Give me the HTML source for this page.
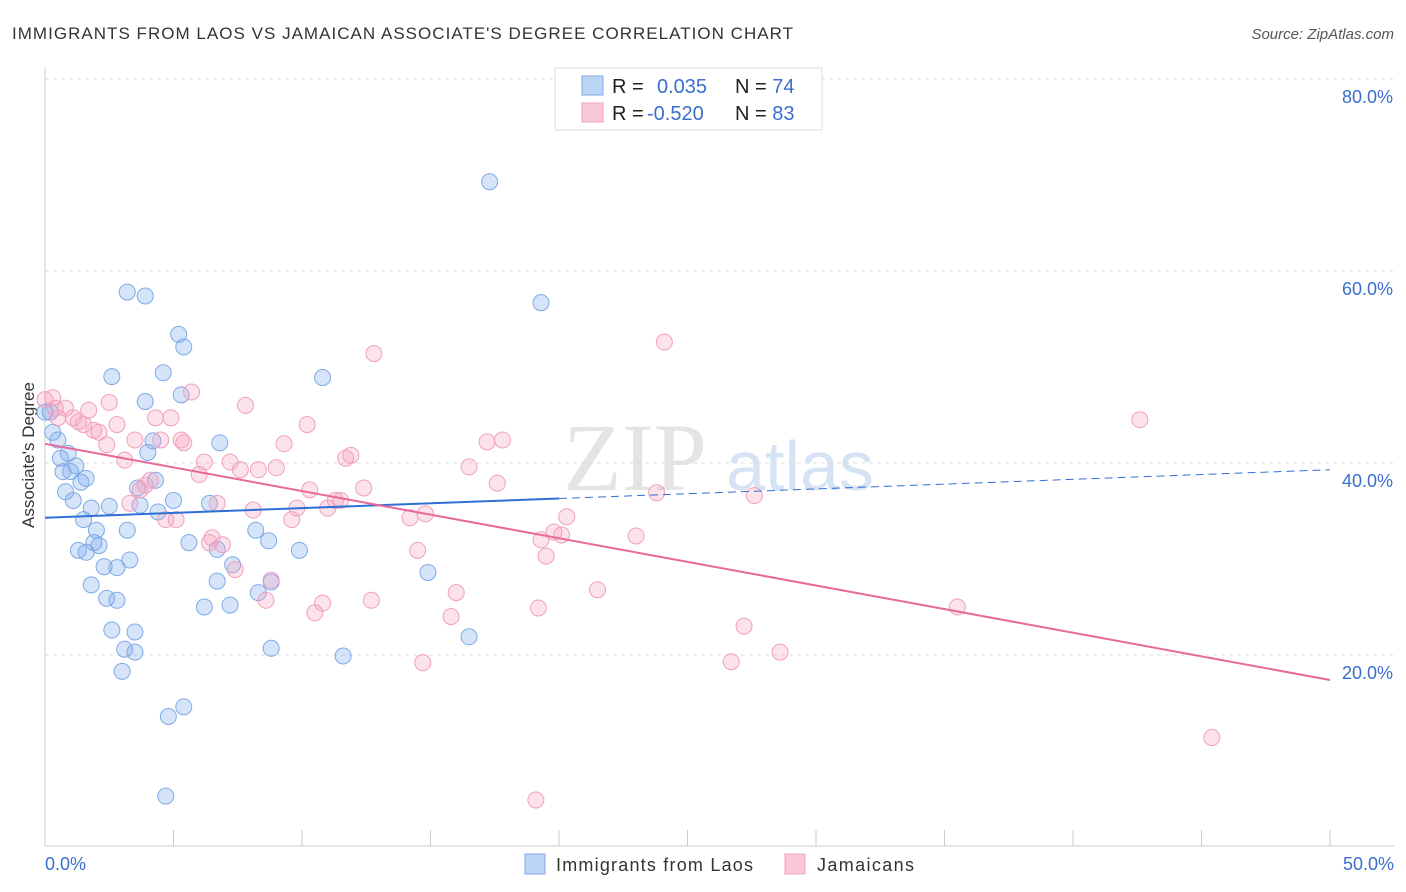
<!DOCTYPE html>
<html><head><meta charset="utf-8"><style>
body{margin:0;background:#fff;font-family:"Liberation Sans",sans-serif;}
#wrap{position:relative;width:1406px;height:892px;overflow:hidden;}
</style></head><body>
<div id="wrap">
<svg id="svg" width="1406" height="892">
<text x="12" y="39" font-size="17" fill="#333" textLength="781">IMMIGRANTS FROM LAOS VS JAMAICAN ASSOCIATE'S DEGREE CORRELATION CHART</text>
<text x="1394" y="39" font-size="15" fill="#555" font-style="italic" text-anchor="end">Source: ZipAtlas.com</text>
<text x="635" y="490" font-size="96" fill="#e4e4e4" font-family="Liberation Serif,serif" text-anchor="middle">ZIP</text>
<text x="800" y="490" font-size="70" fill="#d6e3f5" text-anchor="middle">atlas</text>
<text transform="translate(34,455) rotate(-90)" font-size="17" fill="#333" text-anchor="middle">Associate's Degree</text>
<g id="grid"></g><g id="pts"></g><g id="lines"></g>
<rect x="555" y="68" width="267" height="62" fill="#fff" stroke="#ddd"/>
<rect x="582" y="76" width="21" height="19" fill="#bcd4f5" stroke="#7faae6"/>
<rect x="582" y="103" width="21" height="19" fill="#f9c8d7" stroke="#f0a0bc"/>
<text x="612" y="93" font-size="20" fill="#222">R = <tspan x="657" fill="#3a6fd0">0.035</tspan><tspan x="735" fill="#222">N = </tspan><tspan fill="#3a6fd0">74</tspan></text>
<text x="612" y="120" font-size="20" fill="#222">R = <tspan x="647" fill="#3a6fd0">-0.520</tspan><tspan x="735" fill="#222">N = </tspan><tspan fill="#3a6fd0">83</tspan></text>
<rect x="525" y="854" width="20" height="20" fill="#bcd4f5" stroke="#7faae6"/>
<text x="556" y="871" font-size="18" fill="#333" textLength="197">Immigrants from Laos</text>
<rect x="785" y="854" width="20" height="20" fill="#f9c8d7" stroke="#f0a0bc"/>
<text x="817" y="871" font-size="18" fill="#333" textLength="97">Jamaicans</text>
<text x="45" y="870" font-size="18" fill="#3a6fd0">0.0%</text>
<text x="1394" y="870" font-size="18" fill="#3a6fd0" text-anchor="end">50.0%</text>
</svg>
</div>
<script>
const yTicks=[20,40,60,80];
const yTickLabels=["20.0%","40.0%","60.0%","80.0%"];
const laosX=[0.0,0.2,0.3,0.5,0.6,0.7,0.8,0.9,1.0,1.1,1.2,1.3,1.4,1.5,1.6,1.6,1.8,1.8,1.9,2.0,2.1,2.3,2.4,2.5,2.6,2.6,2.8,2.8,3.0,3.1,3.2,3.2,3.3,3.5,3.5,3.6,3.7,3.9,3.9,4.0,4.2,4.3,4.4,4.6,4.7,4.8,5.0,5.2,5.3,5.4,5.4,5.6,6.2,6.4,6.7,6.7,6.8,7.2,7.3,8.2,8.3,8.7,8.8,8.8,9.9,10.8,11.6,14.9,16.5,17.3,19.3];
const laosY=[45.3,45.3,43.2,42.4,40.5,39.1,37.0,41.0,39.1,36.1,39.7,30.9,38.0,34.1,30.7,38.4,27.3,35.3,31.7,33.0,31.4,29.2,25.9,35.5,49.0,22.6,29.1,25.7,18.3,20.6,57.8,33.0,29.9,22.4,20.3,37.4,35.6,57.4,46.4,41.1,42.3,38.2,34.9,49.4,5.3,13.6,36.1,53.4,47.1,14.6,52.1,31.7,25.0,35.8,27.7,31.0,42.1,25.2,29.4,33.0,26.5,31.9,27.6,20.7,30.9,48.9,19.9,28.6,21.9,69.3,56.7];
const jamX=[0.0,0.3,0.4,0.5,0.8,1.1,1.3,1.5,1.7,1.9,2.1,2.4,2.5,2.8,3.1,3.3,3.5,3.7,3.9,4.1,4.3,4.5,4.7,4.9,5.1,5.3,5.4,5.7,6.0,6.2,6.4,6.5,6.7,6.9,7.2,7.4,7.6,7.8,8.1,8.3,8.6,8.8,9.0,9.3,9.6,9.8,10.2,10.3,10.5,10.8,11.0,11.3,11.5,11.7,11.9,12.4,12.7,12.8,14.2,14.5,14.7,14.8,15.8,16.0,16.5,17.2,17.6,17.8,19.2,19.3,19.5,19.8,20.1,20.3,21.5,23.0,23.8,24.1,26.7,27.2,27.6,28.6,35.5,42.6,45.4,19.1];
const jamY=[46.6,46.8,45.7,44.7,45.7,44.7,44.3,44.0,45.5,43.4,43.2,41.9,46.3,44.0,40.3,35.8,42.4,37.2,37.7,38.2,44.7,42.4,34.1,44.7,34.1,42.4,42.1,47.4,38.8,40.1,31.7,32.2,35.8,31.5,40.1,28.9,39.3,46.0,35.1,39.3,25.7,27.8,39.5,42.0,34.1,35.3,44.0,37.2,24.4,25.4,35.3,36.1,36.1,40.5,40.8,37.4,25.7,51.4,34.3,30.9,19.2,34.7,24.0,26.5,39.6,42.2,37.9,42.4,24.9,32.0,30.3,32.8,32.5,34.4,26.8,32.4,36.9,52.6,19.3,23.0,36.6,20.3,25.0,44.5,11.4,4.9];
const laosTrend=[34.3,39.3];
const laosSolidEnd=20;
const jamTrend=[42.0,17.4];
const sx=v=>45+v*25.7, sy=v=>847-v*9.6;
const NS="http://www.w3.org/2000/svg";
function mk(tag,attrs,parent){const e=document.createElementNS(NS,tag);for(const k in attrs)e.setAttribute(k,attrs[k]);parent.appendChild(e);return e;}
const grid=document.getElementById('grid');
yTicks.forEach((t,i)=>{
 const l=mk('line',{x1:45,x2:1394,y1:sy(t),y2:sy(t),stroke:'#ddd','stroke-dasharray':'4,4'},grid);
 
 
 const tx=mk('text',{x:1393,y:sy(t)+24,'font-size':18,fill:'#3a6fd0','text-anchor':'end'},grid);
 tx.textContent=yTickLabels[i];
 
 
});
mk('line',{x1:45,x2:1394,y1:79,y2:79,stroke:'#ddd','stroke-dasharray':'4,4'},grid);
const ya=mk('line',{x1:45,x2:45,y1:67,y2:846,stroke:'#ccc'},grid);


const xa=mk('line',{x1:45,x2:1394,y1:846,y2:846,stroke:'#ccc'},grid);


for(let i=0;i<=10;i++){const t=mk('line',{x1:sx(i*5),x2:sx(i*5),y1:830,y2:846,stroke:'#ccc'},grid);
 
 }
const pts=document.getElementById('pts');
laosX.forEach((x,i)=>{const c=mk('circle',{cx:sx(x),cy:sy(laosY[i]),r:8,fill:'rgba(120,165,235,0.3)',stroke:'#7faae6','stroke-width':1},pts);
 
 });
jamX.forEach((x,i)=>{const c=mk('circle',{cx:sx(x),cy:sy(jamY[i]),r:8,fill:'rgba(245,160,190,0.3)',stroke:'#f0a0bc','stroke-width':1},pts);
 
 });
const lines=document.getElementById('lines');
const lv=x=>laosTrend[0]+(laosTrend[1]-laosTrend[0])*x/50;
const l1=mk('line',{x1:sx(0),y1:sy(lv(0)),x2:sx(laosSolidEnd),y2:sy(lv(laosSolidEnd)),stroke:'#2f6fd6','stroke-width':2},lines);


const l2=mk('line',{x1:sx(laosSolidEnd),y1:sy(lv(laosSolidEnd)),x2:sx(50),y2:sy(lv(50)),stroke:'#2f6fd6','stroke-width':1,'stroke-dasharray':'8,5'},lines);


const l3=mk('line',{x1:sx(0),y1:sy(jamTrend[0]),x2:sx(50),y2:sy(jamTrend[1]),stroke:'#e8689a','stroke-width':2},lines);


</script>
</body></html>
